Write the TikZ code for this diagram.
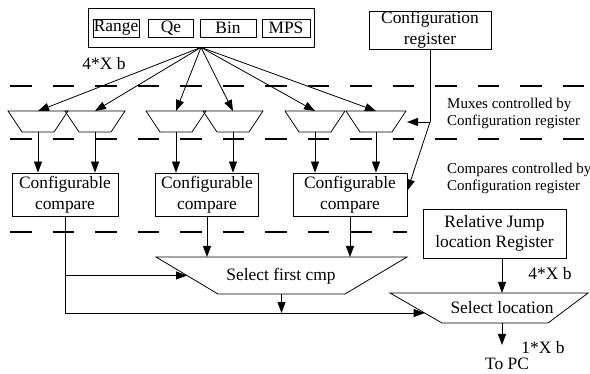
\documentclass[tikz,border=0pt]{standalone}
\usepackage{fontspec}
\setmainfont{Liberation Serif}
\usetikzlibrary{arrows.meta,calc}
\begin{document}
\begin{tikzpicture}[x=1pt,y=-1pt,
 big/.style={font=\fontsize{17.4}{20.5}\selectfont},
 small/.style={font=\fontsize{15}{17}\selectfont},
 wire/.style={line width=0.8pt},
 box/.style={draw, line width=0.8pt, inner sep=0pt, align=center, big},
 arr/.style={line width=0.8pt, -{Triangle[length=11pt,width=8pt]}},
 sep/.style={line width=2pt, dash pattern=on 21.5pt off 21pt},
 mux/.pic={\draw[line width=0.8pt] (-30,0) -- (30,0) -- (16,21) -- (-16,21) -- cycle;
   \coordinate (-top) at (0,0); \coordinate (-bot) at (0,21); \coordinate (-ctl) at (31,11);}]
\useasboundingbox (0,0) rectangle (590,374);

% separators
\draw[sep] (10,86) -- (584,86);
\draw[sep] (10,139) -- (584,139);
\draw[sep] (10,232) -- (407,232);

% top register group
\node[draw, wire, minimum width=226pt, minimum height=39pt] (regs) at (201,27.5) {};
\node[box, minimum width=46pt, minimum height=18pt] (range) at (116,28) {Range};
\node[box, minimum width=45pt, minimum height=18pt] (qe) at (171,28) {Qe};
\node[box, minimum width=56pt, minimum height=18pt] (bin) at (228,28) {Bin};
\node[box, minimum width=48pt, minimum height=18pt] (mps) at (286,28) {MPS};

\node[box, minimum width=122pt, minimum height=38pt] (cfg) at (430,30) {Configuration\\register};

% muxes
\pic (m1) at (38,111) {mux};
\pic (m2) at (95,111) {mux};
\pic (m3) at (176,111) {mux};
\pic (m4) at (233,111) {mux};
\pic (m5) at (315,111) {mux};
\pic (m6) at (376,111) {mux};

% compares
\node[box, minimum width=106pt, minimum height=43pt] (cmp1) at (65,194.5) {Configurable\\compare};
\node[box, minimum width=103pt, minimum height=43pt] (cmp2) at (207,194.5) {Configurable\\compare};
\node[box, minimum width=114pt, minimum height=43pt] (cmp3) at (350,194.5) {Configurable\\compare};

% select first cmp
\coordinate (s1a) at (156,257);
\coordinate (s1b) at (407,257);
\coordinate (s1c) at (345,294);
\coordinate (s1d) at (218,294);
\draw[wire] (s1a) -- (s1b) -- (s1c) -- (s1d) -- cycle;
\node[big] (s1) at (281,276) {Select first cmp};

% relative jump register
\node[box, minimum width=143pt, minimum height=49pt] (rj) at (494.5,233.5) {Relative Jump\\location Register};

% select location
\coordinate (la) at (390,293);
\coordinate (lb) at (588,293);
\coordinate (lc) at (548,323);
\coordinate (ld) at (442,323);
\draw[wire] (la) -- (lb) -- (lc) -- (ld) -- cycle;
\node[big] (loc) at (502,308) {Select location};

% labels
\node[big] (lbl1) at (104,64) {4*X b};
\node[big] (lbl2) at (550,274) {4*X b};
\node[big] (lbl3) at (543,348) {1*X b};
\node[big, anchor=base, inner sep=0pt] (topc) at (507,370) {To PC};
\node[small, align=left, anchor=west, inner sep=0pt] (txtm) at (447,113) {Muxes controlled by\\Configuration register};
\node[small, align=left, anchor=west, inner sep=0pt] (txtc) at (447,178) {Compares controlled by\\Configuration register};

% fan-out
\foreach \m in {m1,m2,m3,m4,m5,m6} \draw[arr] (regs.south) -- (\m-top);

% mux to compares
\draw[arr] (m1-bot) -- (m1-bot |- cmp1.north);
\draw[arr] (m2-bot) -- (m2-bot |- cmp1.north);
\draw[arr] (m3-bot) -- (m3-bot |- cmp2.north);
\draw[arr] (m4-bot) -- (m4-bot |- cmp2.north);
\draw[arr] (m5-bot) -- (m5-bot |- cmp3.north);
\draw[arr] (m6-bot) -- (m6-bot |- cmp3.north);

% configuration control
\coordinate (j) at (cfg.south |- m6-ctl);
\draw[wire] (cfg.south) -- (j);
\draw[arr] (j) -- (m6-ctl);
\draw[arr] (j) -- ([yshift=4pt]cmp3.east);

% compare outputs
\coordinate (s1in) at ($(s1a)!0.5!(s1d)$);
\coordinate (lin) at ($(la)!0.667!(ld)$);
\coordinate (s1out) at ($(s1c)!0.5!(s1d)$);
\draw[wire] (cmp1.south) -- (cmp1.south |- lin);
\draw[arr] (cmp1.south |- lin) -- (lin);
\draw[arr] (cmp1.south |- s1in) -- (s1in);
\draw[arr] (cmp2.south) -- (cmp2.south |- s1a);
\draw[arr] (cmp3.south) -- (cmp3.south |- s1a);
\draw[arr] (s1out) -- (s1out |- lin);

% location
\draw[arr] (rj.south -| loc) -- (la -| loc);
\coordinate (pc) at (502,345);
\draw[arr] (ld -| loc) -- (pc);
\end{tikzpicture}
\end{document}
